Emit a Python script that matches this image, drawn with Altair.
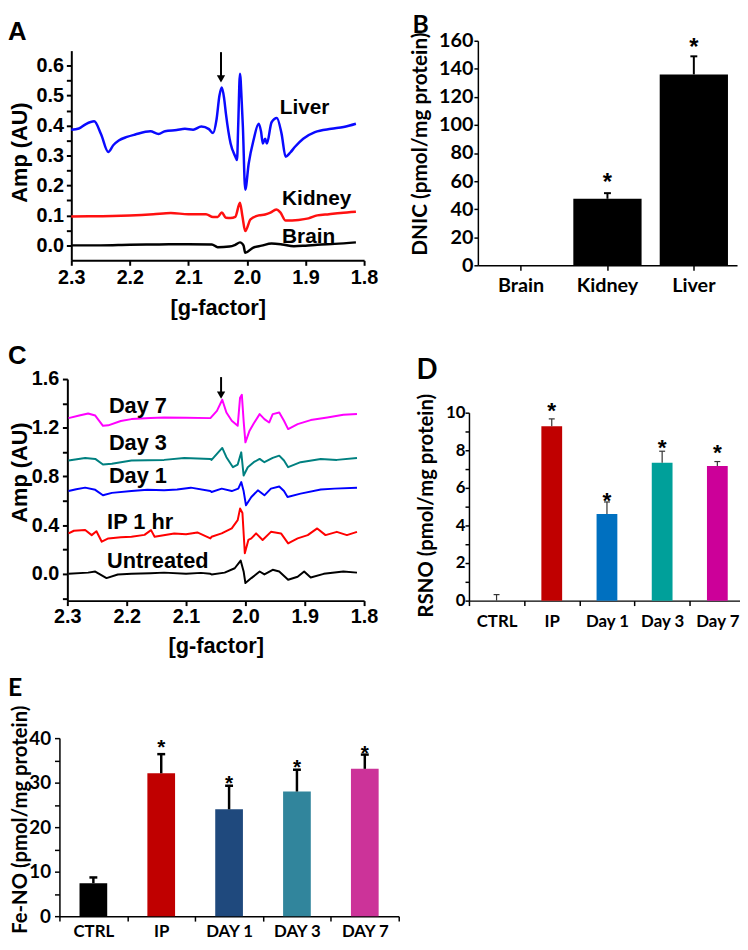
import altair as alt
import pandas as pd

ARIAL = "Liberation Sans"
CAL = "Lato"

# ---------------- Panel A: EPR spectra of tissues ----------------
liver_g = [2.300, 2.287, 2.275, 2.261, 2.249, 2.237, 2.228, 2.219, 2.205, 2.191,
           2.165, 2.151, 2.140, 2.120, 2.106, 2.092, 2.078, 2.065, 2.058, 2.052,
           2.047, 2.043, 2.039, 2.036, 2.028, 2.020, 2.017, 2.015, 2.012, 2.009,
           2.007, 2.003, 1.997, 1.989, 1.980, 1.976, 1.973, 1.969, 1.966, 1.958,
           1.949, 1.941, 1.934, 1.926, 1.918, 1.904, 1.884, 1.856, 1.835, 1.814]
liver_amp = [0.386, 0.390, 0.405, 0.414, 0.370, 0.312, 0.335, 0.350, 0.362, 0.370,
             0.381, 0.372, 0.381, 0.385, 0.389, 0.386, 0.397, 0.388, 0.375, 0.420,
             0.500, 0.527, 0.490, 0.440, 0.340, 0.297, 0.285, 0.400, 0.573, 0.480,
             0.395, 0.186, 0.274, 0.350, 0.406, 0.380, 0.340, 0.356, 0.340, 0.411,
             0.425, 0.373, 0.296, 0.310, 0.329, 0.356, 0.378, 0.389, 0.395, 0.406]
kidney_g = [2.300, 2.270, 2.230, 2.200, 2.160, 2.130, 2.100, 2.070, 2.058, 2.050,
            2.043, 2.036, 2.028, 2.020, 2.012, 2.008, 2.003, 1.994, 1.980, 1.969,
            1.960, 1.950, 1.943, 1.934, 1.912, 1.895, 1.880, 1.860, 1.840, 1.814]
kidney_amp = [0.096, 0.097, 0.098, 0.100, 0.104, 0.108, 0.104, 0.104, 0.095, 0.095,
              0.110, 0.092, 0.091, 0.095, 0.142, 0.100, 0.048, 0.087, 0.100, 0.103,
              0.109, 0.120, 0.110, 0.083, 0.085, 0.090, 0.100, 0.104, 0.108, 0.112]
brain_g = [2.300, 2.250, 2.200, 2.150, 2.100, 2.060, 2.050, 2.030, 2.020, 2.012,
           2.006, 2.003, 1.990, 1.975, 1.958, 1.940, 1.920, 1.900, 1.880, 1.850, 1.814]
brain_amp = [0.000, 0.000, 0.002, 0.003, 0.004, 0.003, -0.006, -0.004, 0.002, 0.010,
             0.000, -0.025, -0.008, -0.001, 0.006, 0.003, -0.003, -0.001, 0.002, 0.005, 0.010]
tissues = ["Liver", "Kidney", "Brain"]
tissue_colors = ["#0a0aff", "#ff1010", "#000000"]
tissue_label_g = [1.944, 1.940, 1.940]
tissue_label_amp = [0.439, 0.136, 0.008]
arrowA_g = [2.0444]
arrowA_top = [0.645]
arrowA_head = [0.556]
gA_ticks = [2.3, 2.2, 2.1, 2.0, 1.9, 1.8]
ampA_ticks = [0.0, 0.05, 0.1, 0.15, 0.2, 0.25, 0.3, 0.35, 0.4, 0.45, 0.5, 0.55, 0.6]

# ---------------- Panel B: DNIC ----------------
organs = ["Brain", "Kidney", "Liver"]
dnic_mean = [0, 47.4, 136]
dnic_err = [None, 51.4, 148.9]
dnic_star = [None, 63.2, 159.1]
dnic_ticks = [0, 20, 40, 60, 80, 100, 120, 140, 160]

# ---------------- Panel C: EPR spectra time course ----------------
d7_g = [2.298, 2.280, 2.265, 2.253, 2.240, 2.231, 2.210, 2.192, 2.160, 2.137,
        2.100, 2.059, 2.048, 2.039, 2.032, 2.023, 2.013, 2.009, 2.006, 2.003,
        2.000, 1.993, 1.986, 1.976, 1.968, 1.960, 1.954, 1.943, 1.935, 1.928,
        1.912, 1.890, 1.862, 1.835, 1.812]
d7_amp = [1.279, 1.300, 1.317, 1.300, 1.216, 1.220, 1.255, 1.271, 1.280, 1.284,
          1.283, 1.279, 1.339, 1.430, 1.325, 1.257, 1.216, 1.447, 1.470, 1.257,
          1.080, 1.176, 1.235, 1.312, 1.271, 1.243, 1.312, 1.325, 1.257, 1.189,
          1.230, 1.263, 1.284, 1.306, 1.312]
d3_g = [2.298, 2.270, 2.253, 2.240, 2.225, 2.192, 2.137, 2.103, 2.059, 2.057,
        2.039, 2.032, 2.021, 2.013, 2.007, 2.003, 1.996, 1.986, 1.976, 1.968,
        1.954, 1.943, 1.935, 1.928, 1.907, 1.873, 1.846, 1.812]
d3_amp = [0.931, 0.952, 0.944, 0.898, 0.905, 0.931, 0.936, 0.952, 0.944, 0.936,
          1.034, 0.958, 0.876, 0.898, 0.998, 0.808, 0.876, 0.917, 0.944, 0.917,
          0.952, 0.971, 0.931, 0.876, 0.917, 0.944, 0.936, 0.952]
d1_g = [2.298, 2.285, 2.270, 2.253, 2.240, 2.225, 2.192, 2.165, 2.137, 2.115,
        2.092, 2.059, 2.057, 2.040, 2.023, 2.012, 2.007, 2.003, 1.999, 1.990,
        1.979, 1.968, 1.957, 1.943, 1.935, 1.929, 1.907, 1.873, 1.850, 1.812]
d1_amp = [0.680, 0.695, 0.708, 0.690, 0.645, 0.665, 0.680, 0.690, 0.686, 0.692,
          0.708, 0.680, 0.672, 0.700, 0.680, 0.700, 0.754, 0.680, 0.563, 0.631,
          0.686, 0.645, 0.700, 0.718, 0.680, 0.631, 0.659, 0.692, 0.700, 0.708]
ip_g = [2.298, 2.289, 2.270, 2.259, 2.251, 2.242, 2.231, 2.210, 2.192, 2.170,
        2.159, 2.153, 2.120, 2.100, 2.081, 2.059, 2.057, 2.040, 2.023, 2.013,
        2.009, 2.005, 2.001, 1.995, 1.990, 1.982, 1.971, 1.957, 1.940, 1.928,
        1.912, 1.895, 1.879, 1.865, 1.846, 1.829, 1.812]
ip_amp = [0.332, 0.354, 0.360, 0.318, 0.350, 0.264, 0.291, 0.300, 0.305, 0.320,
          0.359, 0.305, 0.332, 0.325, 0.340, 0.291, 0.305, 0.332, 0.373, 0.441,
          0.536, 0.500, 0.169, 0.278, 0.291, 0.332, 0.278, 0.345, 0.332, 0.250,
          0.291, 0.318, 0.373, 0.318, 0.345, 0.318, 0.345]
un_g = [2.298, 2.265, 2.253, 2.234, 2.215, 2.192, 2.160, 2.137, 2.100, 2.075,
        2.059, 2.057, 2.035, 2.018, 2.008, 2.003, 2.000, 1.990, 1.976, 1.968,
        1.954, 1.943, 1.928, 1.912, 1.901, 1.890, 1.868, 1.835, 1.812]
un_amp = [0.000, 0.010, 0.019, -0.035, -0.005, 0.000, 0.005, 0.010, 0.000, 0.008,
          0.000, -0.005, 0.010, 0.046, 0.109, 0.020, -0.076, -0.035, 0.019, -0.005,
          0.033, 0.019, -0.049, -0.024, 0.019, -0.030, 0.000, 0.019, 0.010]
times = ["Day 7", "Day 3", "Day 1", "IP 1 hr", "Untreated"]
time_colors = ["#ff00ff", "#008080", "#0000ff", "#ff0000", "#000000"]
time_label_g = [2.230, 2.230, 2.230, 2.233, 2.233]
time_label_amp = [1.325, 1.018, 0.745, 0.365, 0.046]
arrowC_g = [2.041]
arrowC_top = [1.616]
arrowC_head = [1.468]
gC_ticks = [2.3, 2.2, 2.1, 2.0, 1.9, 1.8]
ampC_ticks = [-0.2, 0.0, 0.2, 0.4, 0.6, 0.8, 1.0, 1.2, 1.4, 1.6]

# ---------------- Panel D: RSNO ----------------
groups_d = ["CTRL", "IP", "Day 1", "Day 3", "Day 7"]
rsno_mean = [0, 9.28, 4.61, 7.33, 7.16]
rsno_err = [0.32, 9.67, 5.25, 7.95, 7.40]
rsno_star = [None, 10.42, 5.63, 8.44, 8.17]
colors_d = ["#000000", "#c00000", "#0070c0", "#00a09a", "#cc0099"]
rsno_ticks = [0, 1, 2, 3, 4, 5, 6, 7, 8, 9, 10]

# ---------------- Panel E: Fe-NO ----------------
groups_e = ["CTRL", "IP", "DAY 1", "DAY 3", "DAY 7"]
feno_mean = [7.4, 32.1, 24.0, 28.0, 33.1]
feno_err = [8.7, 36.4, 29.3, 32.9, 36.3]
feno_star = [None, 39.1, 30.9, 34.4, 37.7]
colors_e = ["#000000", "#c00000", "#1f497d", "#31859c", "#cc3399"]
feno_ticks = [0, 5, 10, 15, 20, 25, 30, 35, 40]


def spectra_df(names, gs, amps):
    rows = []
    for n, g, a in zip(names, gs, amps):
        for gi, ai in zip(g, a):
            rows.append({"series": n, "g": gi, "amp": ai})
    return pd.DataFrame(rows)


def letter(t, x, y, font, size):
    return alt.Chart(pd.DataFrame({"t": [t]})).mark_text(
        align="left", baseline="top", font=font, fontSize=size,
        fontWeight="bold", color="black").encode(
        x=alt.value(x), y=alt.value(y), text="t:N")


spec_axis = dict(labelFont=ARIAL, labelFontSize=20, labelFontWeight="bold",
                 labelColor="black", titleFont=ARIAL, titleFontSize=22,
                 titleFontWeight="bold", titleColor="black", domainColor="black",
                 domainWidth=2, tickColor="black", tickWidth=2, tickSize=5,
                 grid=False, labelOverlap=False)

bar_axis = dict(labelFont=CAL, labelFontWeight="bold", labelColor="black",
                titleFont=CAL, titleFontWeight="bold", titleColor="black",
                domainColor="black", domainWidth=1.5, tickColor="black",
                tickWidth=1.5, grid=False, labelOverlap=False)


def spectrum_panel(names, colors, gs, amps, lab_g, lab_amp, arr_g, arr_top, arr_head,
                   g_ticks, amp_ticks, amp_dom, xrange, yrange, xoff, yoff, labelexpr,
                   ytitle_x, ytitle_y, xlab_pad, xtitle_y, ylab_pad, lab_size, lw,
                   w, h, let, let_x, let_y, interp):
    xe = alt.X("g:Q", scale=alt.Scale(domain=[2.3, 1.8], range=xrange, nice=False, zero=False),
               axis=alt.Axis(values=g_ticks, format=".1f", title="[g-factor]", offset=xoff,
                             labelPadding=xlab_pad, titleY=xtitle_y, titleBaseline="top",
                             labelFlush=False, **spec_axis))
    ye = alt.Y("amp:Q", scale=alt.Scale(domain=amp_dom, range=yrange, nice=False, zero=False),
               axis=alt.Axis(values=amp_ticks, labelExpr=labelexpr, title="Amp (AU)",
                             offset=yoff, titleX=ytitle_x, titleY=ytitle_y,
                             titleBaseline="middle", titleAlign="center",
                             labelPadding=ylab_pad, **spec_axis))
    df = spectra_df(names, gs, amps)
    lines = alt.Chart(df).mark_line(strokeWidth=lw, strokeJoin="round",
                                    interpolate=interp).encode(
        x=xe, y=ye, color=alt.Color("series:N", scale=alt.Scale(domain=names, range=colors),
                                    legend=None))
    lab = alt.Chart(pd.DataFrame({"g": lab_g, "amp": lab_amp, "label": names})).mark_text(
        align="left", baseline="alphabetic", font=ARIAL, fontSize=lab_size,
        fontWeight="bold", color="black").encode(x=xe, y=ye, text="label:N")
    shaft = alt.Chart(pd.DataFrame({"g": arr_g, "amp": arr_top, "amp2": arr_head})).mark_rule(
        color="black", strokeWidth=2).encode(x=xe, y=ye, y2="amp2:Q")
    head = alt.Chart(pd.DataFrame({"g": arr_g, "amp": arr_head})).mark_point(
        shape="triangle-down", filled=True, color="black", size=70, opacity=1).encode(x=xe, y=ye)
    return alt.layer(lines, lab, shaft, head, letter(let, let_x, let_y, ARIAL, 26)).properties(
        width=w, height=h)


def bar_panel(cats, means, errs, stars, colors, ymax, yticks, labelexpr, ytitle,
              w, h, xrange, yrange, yoff, bar_size, title_size, ytitle_x, ytitle_y,
              ylab_size, ylab_pad, ytick_size, xlab_size, xlab_pad, tickband,
              err_w, err_color, cap_size, star_size, star_dy, let, let_x, let_y, let_size):
    xaxis = dict(title=None, labelAngle=0, labelFontSize=xlab_size, labelPadding=xlab_pad,
                 tickSize=5, **bar_axis)
    if tickband:
        xaxis["tickBand"] = "extent"
    xe = alt.X("cat:N", sort=cats,
               scale=alt.Scale(domain=cats, range=xrange, paddingInner=0, paddingOuter=0),
               axis=alt.Axis(**xaxis))
    ye = alt.Y("val:Q", scale=alt.Scale(domain=[0, ymax], range=yrange, nice=False, zero=True),
               axis=alt.Axis(values=yticks, labelExpr=labelexpr, title=ytitle, offset=yoff,
                             titleFontSize=title_size, titleX=ytitle_x, titleY=ytitle_y,
                             titleBaseline="middle", titleAlign="center",
                             labelFontSize=ylab_size, labelPadding=ylab_pad,
                             tickSize=ytick_size, **bar_axis))
    bars = alt.Chart(pd.DataFrame({"cat": cats, "val": means})).mark_bar(size=bar_size).encode(
        x=xe, y=ye, color=alt.Color("cat:N", scale=alt.Scale(domain=cats, range=colors),
                                    legend=None))
    er = [(c, m, e) for c, m, e in zip(cats, means, errs) if e is not None]
    edf = pd.DataFrame({"cat": [r[0] for r in er], "val": [r[1] for r in er],
                        "val2": [r[2] for r in er]})
    rule = alt.Chart(edf).mark_rule(strokeWidth=err_w, color=err_color).encode(
        x=xe, y=ye, y2="val2:Q")
    cdf = pd.DataFrame({"cat": [r[0] for r in er], "val": [r[2] for r in er]})
    cap = alt.Chart(cdf).mark_tick(size=cap_size, thickness=err_w, color=err_color,
                                   opacity=1).encode(x=xe, y=ye)
    st = [(c, s) for c, s in zip(cats, stars) if s is not None]
    sdf = pd.DataFrame({"cat": [r[0] for r in st], "val": [r[1] for r in st],
                        "t": ["*"] * len(st)})
    star = alt.Chart(sdf).mark_text(font=ARIAL, fontSize=star_size, fontWeight="bold",
                                    color="black", baseline="middle", dy=star_dy).encode(
        x=xe, y=ye, text="t:N")
    return alt.layer(bars, rule, cap, star, letter(let, let_x, let_y, CAL, let_size)).properties(
        width=w, height=h)


A = spectrum_panel(tissues, tissue_colors, [liver_g, kidney_g, brain_g],
                   [liver_amp, kidney_amp, brain_amp], tissue_label_g, tissue_label_amp,
                   arrowA_g, arrowA_top, arrowA_head, gA_ticks, ampA_ticks, [-0.05, 0.65],
                   [12, 308], [222, 10], -5, -12,
                   "round(datum.value*100) % 10 == 0 ? format(datum.value, '.1f') : ''",
                   -52, 112.5, 2.5, 38, 3, 21, 2.5, 308, 227, "A", -52, -22, "monotone")

C = spectrum_panel(times, time_colors, [d7_g, d3_g, d1_g, ip_g, un_g],
                   [d7_amp, d3_amp, d1_amp, ip_amp, un_amp], time_label_g, time_label_amp,
                   arrowC_g, arrowC_top, arrowC_head, gC_ticks, ampC_ticks, [-0.22, 1.6],
                   [8, 308], [224, 0], 0, -8,
                   "round(datum.value*10) % 4 == 0 ? format(datum.value, '.1f') : ''",
                   -48, 94, 1.5, 35, 3.7, 22, 2, 293, 224, "C", -52, -36, "linear")

B = bar_panel(organs, dnic_mean, dnic_err, dnic_star, ["#000000"] * 3, 160, dnic_ticks,
              "datum.label", "DNIC (pmol/mg protein)", 262, 227, [0, 262], [227, 0], 0,
              69, 21, -58, 104, 20, 1, 4, 20, 5, False, 2, "black", 7, 24, 6.5,
              "B", -66, -28, 25)

D = bar_panel(groups_d, rsno_mean, rsno_err, rsno_star, colors_d, 10, rsno_ticks,
              "datum.value % 2 == 0 ? datum.label : ''", "RSNO (pmol/mg protein)",
              270, 224, [-9, 270], [224, 34], 9, 21, 20.5, -43, 127.5, 17, 0, 4, 17, 8, True,
              1.2, "#333333", 6, 23, 6, "D", -62, -22, 28)

E = bar_panel(groups_e, feno_mean, feno_err, feno_star, colors_e, 40, feno_ticks,
              "datum.value % 10 == 0 ? datum.label : ''", "Fe-NO (pmol/mg protein)",
              343, 204, [0, 343], [204, 24], 0, 28, 20.5, -39, 106, 19, 4, 5, 17, 3, True,
              2.5, "black", 8, 21, 5.5, "E", -52, -39, 25)

chart = alt.concat(A, B, C, D, E, columns=2, spacing={"row": 115, "column": 80},
                   bounds="flush", align="none").resolve_scale(
    color="independent", x="independent", y="independent").properties(
    autosize=alt.AutoSizeParams(type="none"),
    padding={"top": 28, "left": 52, "right": 688, "bottom": 906},
    background="white").configure_view(stroke=None)

chart.save("out.html", embed_options={"renderer": "svg", "actions": False})
